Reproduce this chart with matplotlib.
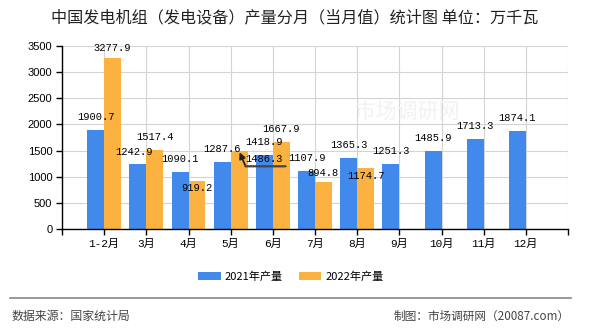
import matplotlib
matplotlib.use("Agg")
import matplotlib.pyplot as plt
import numpy as np
from matplotlib.transforms import offset_copy

months = ["1-2月", "3月", "4月", "5月", "6月", "7月", "8月", "9月", "10月", "11月", "12月"]
prod_2021 = [1900.7, 1242.9, 1090.1, 1287.6, 1418.9, 1107.9, 1365.3, 1251.3, 1485.9, 1713.3, 1874.1]
prod_2022 = [3277.9, 1517.4, 919.2, 1486.3, 1667.9, 894.8, 1174.7]
yticks = [0, 500, 1000, 1500, 2000, 2500, 3000, 3500]

title = "中国发电机组（发电设备）产量分月（当月值）统计图 单位：万千瓦"
series_names = ["2021年产量", "2022年产量"]
source_text = "数据来源：国家统计局"
credit_text = "制图：市场调研网（20087.com）"

c_blue = "#418AEB"
c_orange = "#FBB240"
CJK = ["Noto Sans CJK SC", "DejaVu Sans"]
MONO = ["Liberation Mono", "Noto Sans CJK SC"]

W, H, DPI = 590, 330, 100
fig = plt.figure(figsize=(W / DPI, H / DPI), dpi=DPI)
ax = fig.add_axes([62 / W, 1 - 229 / H, (568 - 62) / W, (229 - 46) / H])

x = np.arange(len(months))
x2 = np.arange(len(prod_2022))
bw = 0.4
b1 = ax.bar(x - bw / 2, prod_2021, width=bw, color=c_blue, zorder=2, label=series_names[0])
b2 = ax.bar(x2 + bw / 2, prod_2022, width=bw, color=c_orange, zorder=2, label=series_names[1])

ax.set_xlim(-1, len(months))
ax.set_ylim(0, 3500)
ax.set_yticks(yticks)
ax.set_yticklabels([str(v) for v in yticks], family=["Liberation Sans"], fontsize=8)
ax.set_xticks(np.arange(-1, len(months) + 1))
ax.set_xticklabels([""] + months + [""], family=MONO, fontsize=8)
ax.tick_params(axis="both", length=4, width=1, color="black", pad=3)
ax.grid(True, color="#d4d4d4", lw=0.8, zorder=0)
ax.set_axisbelow(True)
for s in ["top", "right"]:
    ax.spines[s].set_visible(False)
for s in ["left", "bottom"]:
    ax.spines[s].set_linewidth(1)
    ax.spines[s].set_zorder(3)

# faint watermark
ax.text(0.58, 0.64, "市场调研网", transform=ax.transAxes, fontsize=15, color="#f2f2f2",
        family=CJK, ha="left", va="center", zorder=1)

# value labels: offset in pixels (dx, dy) from bar top
default_off = (0, 13)
off21 = {1: (-4, 12)}
off22 = {0: (0, 10), 2: (0, -7), 3: (24.5, -8), 5: (0, 9), 6: (0, -8)}

for i, v in enumerate(prod_2021):
    dx, dy = off21.get(i, default_off)
    ax.annotate(f"{v:.1f}", xy=(x[i] - bw / 2, v), xytext=(dx, dy), textcoords="offset pixels",
                ha="center", va="center", fontsize=7.5, family=MONO, zorder=4)
for i, v in enumerate(prod_2022):
    dx, dy = off22.get(i, default_off)
    ax.annotate(f"{v:.1f}", xy=(x2[i] + bw / 2, v), xytext=(dx, dy), textcoords="offset pixels",
                ha="center", va="center", fontsize=7.5, family=MONO, zorder=4)

# leader line for displaced label (5月 2022)
k = 3
px, py = x2[k] + bw / 2, prod_2022[k]
t_corner = offset_copy(ax.transData, fig=fig, x=6.5, y=-15, units="dots")
t_end = offset_copy(ax.transData, fig=fig, x=46.5, y=-15, units="dots")
t_tip = offset_copy(ax.transData, fig=fig, x=0.5, y=-1, units="dots")
ax.annotate("", xy=(px, py), xycoords=t_tip, xytext=(px, py), textcoords=t_corner,
            arrowprops=dict(arrowstyle="-|>", color="#222222", lw=1.3, shrinkA=0, shrinkB=0,
                            mutation_scale=9), zorder=5)
ax.annotate("", xy=(px, py), xycoords=t_corner, xytext=(px, py), textcoords=t_end,
            arrowprops=dict(arrowstyle="-", color="#444444", lw=1.6, shrinkA=0, shrinkB=0), zorder=5)

# title
fig.text(0.5, 1 - 18 / H, title, ha="center", va="center", fontsize=11.6, family=CJK, color="#222222")

# legend
fig.legend(handles=[b1, b2], labels=series_names, loc="center", bbox_to_anchor=(291 / W, 1 - 277 / H),
           ncol=2, frameon=False, prop={"family": CJK, "size": 8}, handlelength=2.0, handleheight=0.72,
           handletextpad=0.4, columnspacing=1.4, borderpad=0)

# separator and footer
fig.add_artist(plt.Line2D([10 / W, 571 / W], [1 - 298 / H, 1 - 298 / H], color="#888888", lw=1.2))
fig.text(12 / W, 1 - 316 / H, source_text, ha="left", va="center", fontsize=8.6, family=CJK, color="#444444")
fig.text(570 / W, 1 - 316 / H, credit_text, ha="right", va="center", fontsize=8.4, family=CJK, color="#444444")

fig.savefig("out.png", dpi=DPI)
